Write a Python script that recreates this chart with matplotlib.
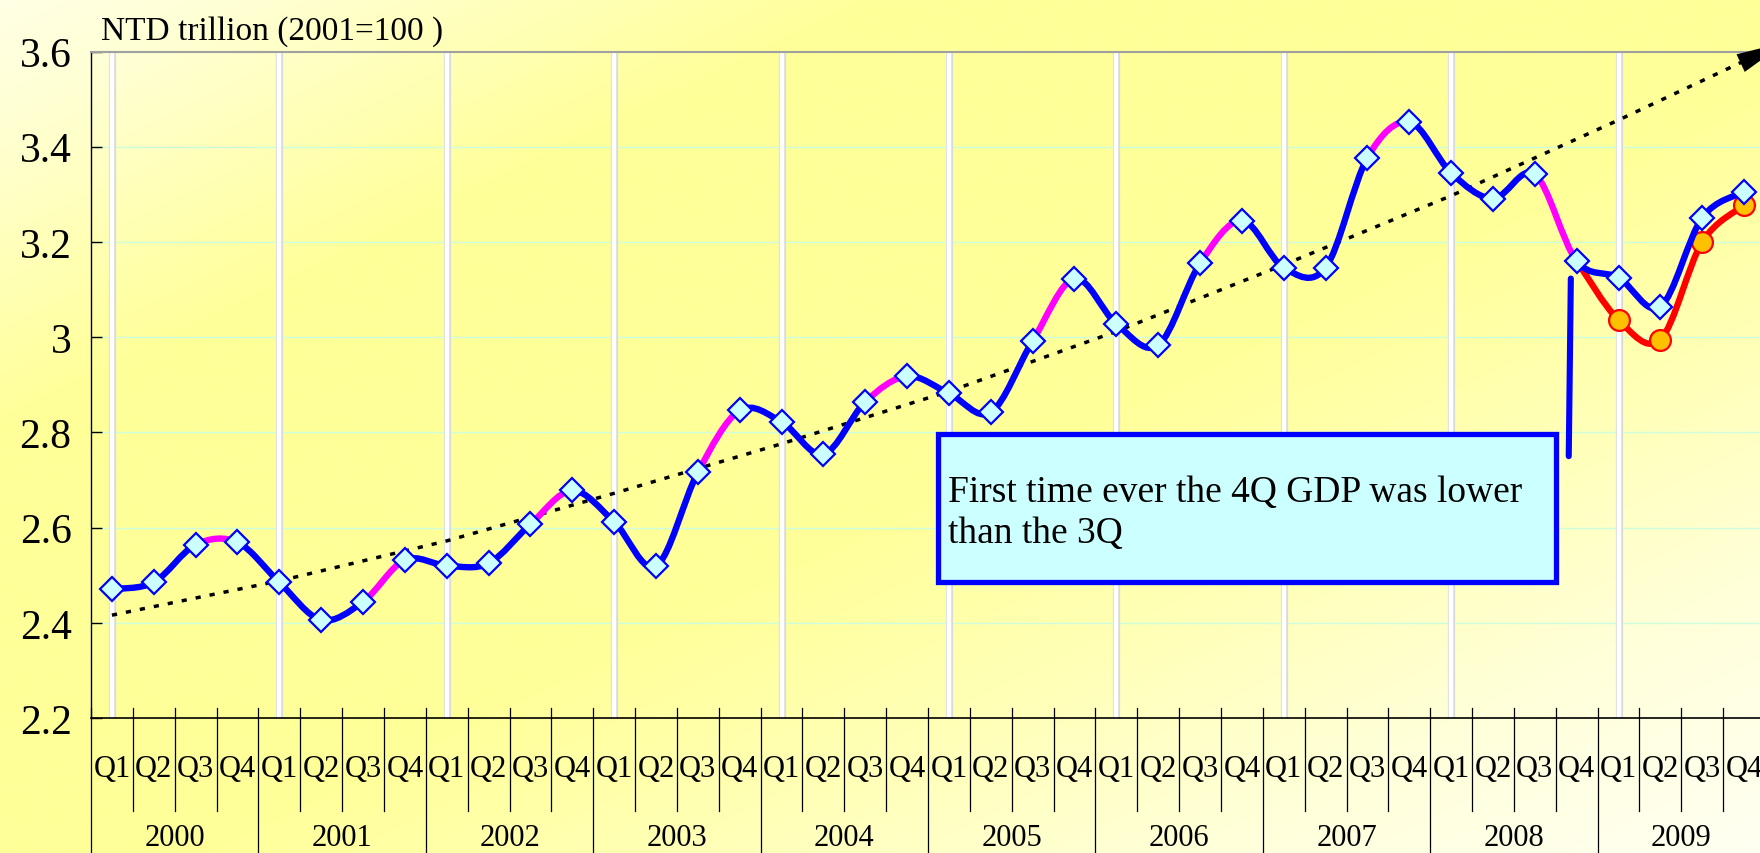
import numpy as np
import matplotlib.pyplot as plt
from matplotlib.path import Path
from matplotlib.patches import PathPatch, Rectangle

plt.rcParams['font.family'] = ['Liberation Serif', 'DejaVu Serif']

# ---- data ----
years = ["2000", "2001", "2002", "2003", "2004", "2005", "2006", "2007", "2008", "2009"]
quarters = ["Q1", "Q2", "Q3", "Q4"]

# real GDP, NTD trillion, Q1 2000 .. Q4 2009
gdp = [2.471, 2.485, 2.564, 2.569,
       2.485, 2.406, 2.444, 2.532,
       2.520, 2.525, 2.607, 2.678,
       2.612, 2.519, 2.716, 2.846,
       2.822, 2.754, 2.864, 2.918,
       2.882, 2.842, 2.992, 3.123,
       3.028, 2.983, 3.155, 3.245,
       3.146, 3.146, 3.377, 3.452,
       3.345, 3.291, 3.342, 3.160,
       3.125, 3.064, 3.251, 3.305]

# revised / new series starting from Q4 2008
gdp_new_start = 35
gdp_new = [3.160, 3.036, 2.995, 3.200, 3.277]

# Q3 -> Q4 segments drawn in magenta (index of the Q3 point)
q3q4_starts = [2, 6, 10, 14, 18, 22, 26, 30, 34]

# dotted trend line
trend_idx = [0, 4, 8, 12, 16, 20, 24, 28, 32, 36, 39, 40]
trend_val = [2.416, 2.488, 2.572, 2.672, 2.776, 2.886, 3.012, 3.152, 3.297, 3.456, 3.58, 3.62]

# pointer line next to the note
pointer_x = [34.86, 34.81]
pointer_y = [3.123, 2.750]
note = "First time ever the 4Q GDP was lower\nthan the 3Q"

y_ticks = [2.2, 2.4, 2.6, 2.8, 3.0, 3.2, 3.4, 3.6]
y_labels = ["2.2", "2.4", "2.6", "2.8", "3", "3.2", "3.4", "3.6"]

W, H = 1760, 854


def smooth_segments(xs, ys):
    # excel-like smoothed line: one cubic bezier per segment
    pts = np.column_stack([xs, ys]).astype(float)
    n = len(pts)
    segs = []
    for i in range(n - 1):
        p0 = pts[max(i - 1, 0)]
        p1 = pts[i]
        p2 = pts[i + 1]
        p3 = pts[min(i + 2, n - 1)]
        c1 = p1 + (p2 - p0) / 6.0
        c2 = p2 - (p3 - p1) / 6.0
        segs.append(Path([p1, c1, c2, p2],
                         [Path.MOVETO, Path.CURVE4, Path.CURVE4, Path.CURVE4]))
    return segs


fig = plt.figure(figsize=(W / 100, H / 100), dpi=100)

# background gradient over whole figure
bg = fig.add_axes([0, 0, 1, 1], zorder=-10)
gx, gy = np.meshgrid(np.linspace(0, 1, 400), np.linspace(0, 1, 200))
t = (gx + gy) / 2
b = np.interp(t, [0, 0.08, 0.25, 0.55, 0.7, 0.85, 1.0],
              [0.90, 0.82, 0.60, 0.60, 0.72, 0.86, 0.95])
img = np.dstack([np.ones_like(b), np.ones_like(b), b])
bg.imshow(img, aspect='auto', extent=[0, 1, 0, 1], origin='upper', interpolation='bilinear')
bg.axis('off')

ax_left, ax_bottom = 91 / W, 1 - 719 / H
ax_top = 1 - 52.5 / H
ax = fig.add_axes([ax_left, ax_bottom, 1 - ax_left, ax_top - ax_bottom])
ax.set_facecolor('none')
ax.set_xlim(-0.5, 39.38)
ax.set_ylim(2.2, 3.6)

# grid + year separators
for yv in y_ticks[1:-1]:
    ax.axhline(yv, color='#ccffdd', lw=1.0, zorder=0.5)
for k in range(len(years)):
    ax.axvline(4 * k, color='#dadada', lw=5.2, zorder=1)
    ax.axvline(4 * k, color='white', lw=3.2, zorder=1.1)

x = np.arange(len(gdp))

# trend
ax.plot(trend_idx, trend_val, color='black', lw=2.5, dashes=(1.5, 2.6), zorder=2)
ann = ax.annotate('', xy=(trend_idx[-1], trend_val[-1]), xytext=(trend_idx[-3], trend_val[-3]),
                  arrowprops=dict(arrowstyle='-|>,head_length=0.72,head_width=0.14',
                                  mutation_scale=50, color='black', lw=0,
                                  shrinkA=0, shrinkB=0),
                  annotation_clip=False)
ann.arrow_patch.set_clip_on(False)

# new series (red line, orange dots)
xn = np.arange(gdp_new_start, gdp_new_start + len(gdp_new))
for seg in smooth_segments(xn, gdp_new):
    ax.add_patch(PathPatch(seg, fc='none', ec='#ff0000', lw=4.6, capstyle='round', zorder=3))
ax.plot(xn[1:], gdp_new[1:], ls='none', marker='o', ms=15, mfc='#ffc000', mec='#ff0000',
        mew=1.6, zorder=4)

# main series
for i, seg in enumerate(smooth_segments(x, gdp)):
    col = '#ff00ff' if i in q3q4_starts else '#0000ff'
    ax.add_patch(PathPatch(seg, fc='none', ec=col, lw=4.6, capstyle='round', zorder=5))
ax.plot(x, gdp, ls='none', marker='D', ms=12, mfc='#ccffff', mec='#0000ff', mew=1.6, zorder=6)

# pointer
ax.plot(pointer_x, pointer_y, color='#0000ff', lw=4.4, solid_capstyle='round', zorder=6)

# axes styling
ax.set_yticks(y_ticks)
ax.set_yticklabels(y_labels)
ax.tick_params(axis='y', direction='in', length=8, width=1, labelsize=30, pad=14)
ax.set_xticks([])
ax.spines['right'].set_visible(False)
ax.spines['top'].set_color('#a0a0a0')
ax.spines['top'].set_linewidth(1.5)
ax.spines['left'].set_linewidth(1.0)
ax.spines['bottom'].set_linewidth(1.2)

# category table under the axis
ax_h = 719 - 52.5
xt = ax.get_xaxis_transform()
y_line_top = (719 - 709) / ax_h
y_q_bottom = (719 - 812) / ax_h
y_yr_bottom = (719 - 860) / ax_h
for i in range(len(gdp)):
    yb = y_yr_bottom if i % 4 == 0 else y_q_bottom
    ax.plot([i - 0.5, i - 0.5], [y_line_top, yb], transform=xt, color='black', lw=0.9,
            clip_on=False, zorder=1)
for i in range(len(gdp)):
    ax.text(i, (719 - 770) / ax_h, quarters[i % 4], transform=xt, ha='center', va='center',
            fontsize=22)
for k, yr in enumerate(years):
    ax.text(4 * k + 1.5, (719 - 838) / ax_h, yr, transform=xt, ha='center', va='center',
            fontsize=22)

# unit label
fig.text(101 / W, 1 - 40 / H, "NTD trillion (2001=100 )", ha='left', va='baseline', fontsize=24)

# note box
ax.add_patch(Rectangle((938 / W, 1 - 583 / H), (1556 - 938) / W, (583 - 435) / H,
                       transform=fig.transFigure, fc='#ccffff', ec='#0000ff', lw=3.8,
                       clip_on=False, zorder=10))
ax.text(948 / W, 1 - 513 / H, note, transform=fig.transFigure, ha='left', va='center',
        fontsize=27, linespacing=1.24, zorder=11)

fig.savefig('out.png', dpi=100)
